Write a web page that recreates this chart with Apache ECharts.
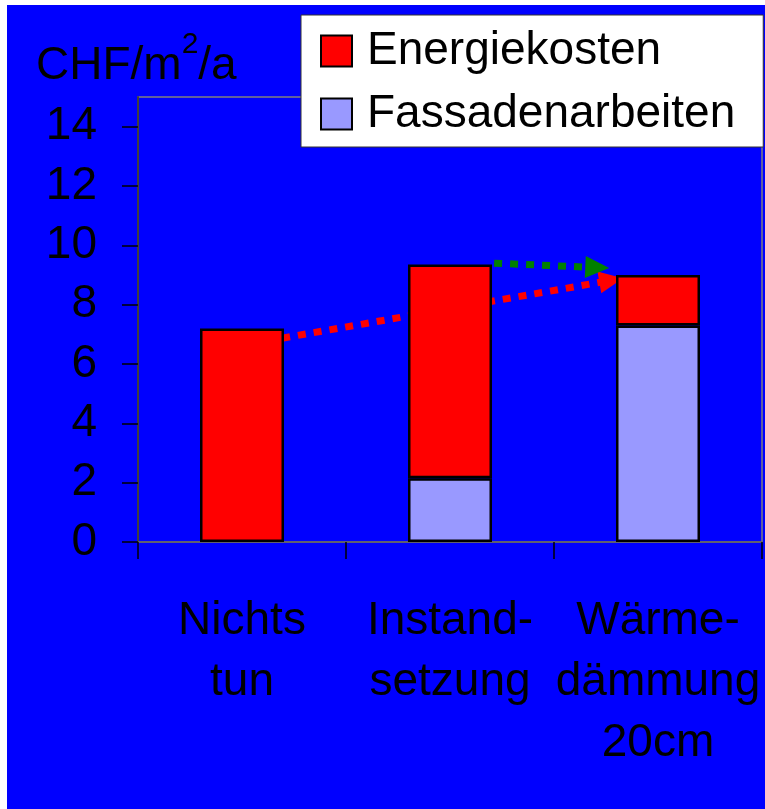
<!DOCTYPE html>
<html>
<head>
<meta charset="utf-8">
<script src="https://cdn.jsdelivr.net/npm/echarts@6/dist/echarts.min.js"></script>
<style>
  html, body { margin: 0; padding: 0; background: #ffffff; }
  #chart { position: absolute; left: 7px; top: 5px; width: 758px; height: 804px; }
</style>
</head>
<body>
<div id="chart"></div>
<script>
// Annual cost per square metre for three facade strategies
const categories = ['Nichts\ntun', 'Instand-\nsetzung', 'Wärme-\ndämmung\n20cm'];
const energiekosten = [7.2, 7.2, 1.7];
const fassadenarbeiten = [null, 2.15, 7.3];
const yTicks = [0, 2, 4, 6, 8, 10, 12, 14];

// Comparison arrows, in [category position, CHF/m²/a]
const redArrow = [[0.193, 6.87], [1.775, 8.82]];
const greenArrow = [[1.212, 9.40], [1.708, 9.25]];

const FONT = "'Liberation Sans', Arial, sans-serif";

const chart = echarts.init(document.getElementById('chart'), null, { renderer: 'canvas' });

function arrow(points, color) {
  return {
    type: 'line',
    xAxisIndex: 1,
    data: [],
    silent: true,
    markLine: {
      z: 1,
      silent: true,
      animation: false,
      symbol: ['none', 'triangle'],
      symbolSize: [22, 24],
      label: { show: false },
      lineStyle: { color: color, width: 7, type: [8, 8], cap: 'butt', opacity: 1 },
      emphasis: { disabled: true },
      data: [[{ coord: points[0] }, { coord: points[1] }]]
    }
  };
}

chart.setOption({
  backgroundColor: '#0000ff',
  animation: false,
  textStyle: { fontFamily: FONT },
  title: {
    text: '{a|CHF/m}{s|2}{a|/a}',
    left: 24,
    top: 20,
    textStyle: {
      fontWeight: 'normal',
      rich: {
        a: { fontSize: 46, color: '#000', fontFamily: FONT, fontWeight: 'normal', lineHeight: 72 },
        s: { fontSize: 30, color: '#000', fontFamily: FONT, fontWeight: 'normal', verticalAlign: 'top', lineHeight: 30 }
      }
    }
  },
  legend: {
    orient: 'vertical',
    left: 294,
    top: 10,
    data: ['Energiekosten', 'Fassadenarbeiten'],
    icon: 'rect',
    backgroundColor: '#ffffff',
    borderColor: '#333333',
    borderWidth: 1,
    padding: [13, 28, 10, 19],
    itemWidth: 31,
    itemHeight: 31,
    itemGap: 17,
    selectedMode: false,
    textStyle: { fontSize: 46, color: '#000', fontFamily: FONT, padding: [0, 0, 0, 10] }
  },
  grid: {
    left: 131,
    top: 92,
    right: 3,
    bottom: 267,
    show: true,
    borderColor: '#808080',
    borderWidth: 1.5
  },
  xAxis: [{
    type: 'category',
    data: categories,
    axisLine: { show: true, lineStyle: { color: '#606060', width: 1.5 } },
    axisTick: { show: true, length: 17, lineStyle: { color: '#000', width: 1.5 } },
    axisLabel: { color: '#000', fontSize: 46, fontFamily: FONT, lineHeight: 61, margin: 49, interval: 0 },
    splitLine: { show: false }
  }, {
    type: 'value',
    min: -0.5,
    max: 2.5,
    show: false
  }],
  yAxis: {
    type: 'value',
    min: 0,
    max: 15,
    interval: 1,
    axisLine: { show: true, onZero: false, lineStyle: { color: '#404040', width: 2 } },
    axisTick: { show: true, length: 16, customValues: yTicks, lineStyle: { color: '#000', width: 1.5 } },
    axisLabel: { color: '#000', fontSize: 46, fontFamily: FONT, margin: 41, customValues: yTicks },
    splitLine: { show: false }
  },
  series: [
    {
      name: 'Fassadenarbeiten',
      type: 'bar',
      stack: 'kosten',
      data: fassadenarbeiten,
      barWidth: 84,
      z: 2,
      itemStyle: { color: '#9999ff', borderColor: '#000', borderWidth: 2.5 }
    },
    {
      name: 'Energiekosten',
      type: 'bar',
      stack: 'kosten',
      data: energiekosten,
      barWidth: 84,
      z: 2,
      itemStyle: { color: '#ff0000', borderColor: '#000', borderWidth: 2.5 }
    },
    arrow(redArrow, '#ff0000'),
    arrow(greenArrow, '#008000')
  ]
});
</script>
</body>
</html>
